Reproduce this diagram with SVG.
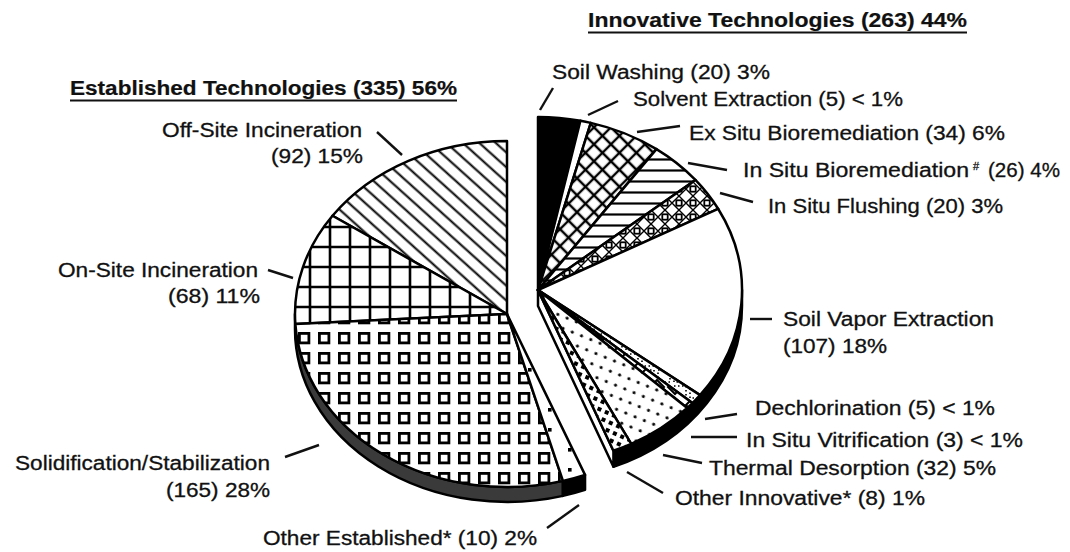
<svg xmlns="http://www.w3.org/2000/svg" width="1070" height="552" viewBox="0 0 1070 552">
<style>
  text { font-family: "Liberation Sans", Arial, Helvetica, sans-serif; font-size: 20px; fill: #111; stroke: #111; stroke-width: 0.3; }
  .title { font-weight: bold; stroke-width: 0.2; }
  .edge { stroke: #000; stroke-width: 2.5; stroke-linejoin: round; }
  .lead { stroke: #111; stroke-width: 2.4; stroke-linecap: butt; fill: none; }
  .uline { stroke: #111; stroke-width: 2.2; }
</style>
<defs>
  <pattern id="pOff" width="11" height="11" patternUnits="userSpaceOnUse" patternTransform="rotate(42)">
    <rect width="11" height="11" fill="#fff"/>
    <line x1="0" y1="5.5" x2="11" y2="5.5" stroke="#000" stroke-width="2"/>
  </pattern>
  <pattern id="pOn" x="0" y="-3" width="20" height="20" patternUnits="userSpaceOnUse">
    <rect width="20" height="20" fill="#fff"/>
    <path d="M10,0V20M0,10H20" stroke="#000" stroke-width="2.6" fill="none"/>
  </pattern>
  <pattern id="pSq" x="-2" y="12" width="20" height="20" patternUnits="userSpaceOnUse">
    <rect width="20" height="20" fill="#fff"/>
    <rect x="1.4" y="1.4" width="9.5" height="9.5" fill="none" stroke="#000" stroke-width="2.8"/>
  </pattern>
  <pattern id="pDotL" x="0" y="0" width="20" height="20" patternUnits="userSpaceOnUse">
    <rect width="20" height="20" fill="#fff"/>
    <rect x="8" y="8" width="3.6" height="3.6" fill="#000"/>
  </pattern>
  <pattern id="pX" width="12" height="12" patternUnits="userSpaceOnUse" patternTransform="rotate(45)">
    <rect width="12" height="12" fill="#fff"/>
    <path d="M6,0V12M0,6H12" stroke="#000" stroke-width="2.4" fill="none"/>
  </pattern>
  <pattern id="pH" width="11" height="11" patternUnits="userSpaceOnUse">
    <rect width="11" height="11" fill="#fff"/>
    <line x1="0" y1="5.5" x2="11" y2="5.5" stroke="#000" stroke-width="2.2"/>
  </pattern>
  <pattern id="pFl" width="14" height="14" patternUnits="userSpaceOnUse">
    <rect width="14" height="14" fill="#fff"/>
    <path d="M7,0L14,7L7,14L0,7Z" fill="none" stroke="#000" stroke-width="1.4"/>
    <rect x="4.3" y="4.3" width="5.4" height="5.4" fill="#fff" stroke="#000" stroke-width="1.8"/>
  </pattern>
  <pattern id="pDs" width="16" height="16" patternUnits="userSpaceOnUse">
    <rect width="16" height="16" fill="#fff"/>
    <rect x="2" y="2" width="12" height="12" fill="none" stroke="#000" stroke-width="1.6" stroke-dasharray="1.5 2.5"/>
  </pattern>
  <pattern id="pDm" width="18" height="18" patternUnits="userSpaceOnUse">
    <rect width="18" height="18" fill="#fff"/>
    <path d="M9,2L16,9L9,16L2,9Z" fill="#fff" stroke="#000" stroke-width="2"/>
  </pattern>
  <pattern id="pDg" width="10" height="11" patternUnits="userSpaceOnUse" patternTransform="rotate(22)">
    <rect width="10" height="11" fill="#fff"/>
    <circle cx="5" cy="5.5" r="1.6" fill="#000"/>
  </pattern>
  <pattern id="pCk" width="8" height="8" patternUnits="userSpaceOnUse" patternTransform="rotate(24)">
    <rect width="8" height="8" fill="#fff"/>
    <rect x="0" y="0" width="4" height="4" fill="#000"/>
  </pattern>
</defs>

<rect width="1070" height="552" fill="#fff"/>

<!-- Established (left) group -->
<g id="established">
  <g id="band-established">
    <path class="edge" fill="#3a3a3a" d="M295,314 A212,173 0 0 0 562.94,480.87 L562.94,495.87 A212,173 0 0 1 295,329 Z"/>
    <path class="edge" fill="#000" d="M562.94,480.87 A212,173 0 0 0 585.04,474.85 L585.04,489.85 A212,173 0 0 1 562.94,495.87 Z"/>
  </g>
  <g id="off-site-incineration">
    <path class="edge" fill="url(#pOff)" d="M507,314 L507,141 A212,173 0 0 0 332.49,215.76 Z"/>
  </g>
  <g id="on-site-incineration">
    <path class="edge" fill="url(#pOn)" d="M507,314 L332.49,215.76 A212,173 0 0 0 295.35,323.96 Z"/>
  </g>
  <g id="solidification-stabilization">
    <path class="edge" fill="url(#pSq)" d="M507,314 L295.35,323.96 A212,173 0 0 0 562.94,480.87 Z"/>
  </g>
  <g id="other-established">
    <path class="edge" fill="url(#pDotL)" d="M507,314 L562.94,480.87 A212,173 0 0 0 585.04,474.85 Z"/>
  </g>
</g>

<!-- Innovative (right) group -->
<g id="innovative">
  <g id="band-innovative">
    <path class="edge" fill="#000" d="M742,290 A204,173 0 0 1 613.43,450.74 L613.43,466.74 A204,173 0 0 0 742,306 Z"/>
    <path class="edge" fill="#fff" d="M538,290 L613.43,450.74 L613.43,466.74 L538,306 Z"/>
  </g>
  <g id="soil-washing">
    <path class="edge" fill="#000" d="M538,290 L538,117 A204,173 0 0 1 580.41,120.78 Z"/>
  </g>
  <g id="solvent-extraction">
    <path class="edge" fill="#fff" d="M538,290 L580.41,120.78 A204,173 0 0 1 590.80,122.89 Z"/>
  </g>
  <g id="ex-situ-bioremediation">
    <path class="edge" fill="url(#pX)" d="M538,290 L590.80,122.89 A204,173 0 0 1 656.46,149.16 Z"/>
  </g>
  <g id="in-situ-bioremediation">
    <path class="edge" fill="url(#pH)" d="M538,290 L656.46,149.16 A204,173 0 0 1 695.41,179.96 Z"/>
  </g>
  <g id="in-situ-flushing">
    <path class="edge" fill="url(#pFl)" d="M538,290 L695.41,179.96 A204,173 0 0 1 718.12,208.78 Z"/>
  </g>
  <g id="soil-vapor-extraction">
    <path class="edge" fill="#fff" d="M538,290 L718.12,208.78 A204,173 0 0 1 700.06,395.08 Z"/>
  </g>
  <g id="dechlorination">
    <path class="edge" fill="url(#pDs)" d="M538,290 L700.06,395.08 A204,173 0 0 1 692.43,403.04 Z"/>
  </g>
  <g id="in-situ-vitrification">
    <path class="edge" fill="url(#pDm)" d="M538,290 L692.43,403.04 A204,173 0 0 1 687.20,407.99 Z"/>
  </g>
  <g id="thermal-desorption">
    <path class="edge" fill="url(#pDg)" d="M538,290 L687.20,407.99 A204,173 0 0 1 631.24,443.87 Z"/>
  </g>
  <g id="other-innovative">
    <path class="edge" fill="url(#pCk)" d="M538,290 L631.24,443.87 A204,173 0 0 1 613.43,450.74 Z"/>
  </g>
</g>

<!-- Leader lines -->
<g id="connectors">
  <line class="lead" x1="377" y1="132" x2="402" y2="155"/>
  <line class="lead" x1="268" y1="270" x2="293" y2="278"/>
  <line class="lead" x1="285" y1="457" x2="319" y2="445"/>
  <line class="lead" x1="547" y1="528" x2="579" y2="505"/>
  <line class="lead" x1="540" y1="110" x2="553" y2="88"/>
  <line class="lead" x1="588" y1="115" x2="618" y2="101"/>
  <line class="lead" x1="637" y1="132" x2="680" y2="126"/>
  <line class="lead" x1="688" y1="163" x2="727" y2="170"/>
  <line class="lead" x1="720" y1="193" x2="753" y2="202"/>
  <line class="lead" x1="750" y1="319" x2="772" y2="319"/>
  <line class="lead" x1="705" y1="419" x2="737" y2="414"/>
  <line class="lead" x1="691" y1="437" x2="737" y2="437"/>
  <line class="lead" x1="663" y1="455" x2="702" y2="463"/>
  <line class="lead" x1="627" y1="472" x2="663" y2="493"/>
</g>

<!-- Titles -->
<g id="title-established">
  <text class="title" x="70" y="95" textLength="387" lengthAdjust="spacingAndGlyphs">Established Technologies (335) 56%</text>
  <line class="uline" x1="70" y1="100.5" x2="457" y2="100.5"/>
</g>
<g id="title-innovative">
  <text class="title" x="588" y="27" textLength="379" lengthAdjust="spacingAndGlyphs">Innovative Technologies (263) 44%</text>
  <line class="uline" x1="588" y1="32.5" x2="967" y2="32.5"/>
</g>

<!-- Labels -->
<g id="label-off-site">
  <text x="162" y="137" textLength="200" lengthAdjust="spacingAndGlyphs">Off-Site Incineration</text>
  <text x="271" y="163" textLength="92" lengthAdjust="spacingAndGlyphs">(92) 15%</text>
</g>
<g id="label-on-site">
  <text x="58" y="277" textLength="200" lengthAdjust="spacingAndGlyphs">On-Site Incineration</text>
  <text x="168" y="303" textLength="92" lengthAdjust="spacingAndGlyphs">(68) 11%</text>
</g>
<g id="label-solidification">
  <text x="15" y="470" textLength="255" lengthAdjust="spacingAndGlyphs">Solidification/Stabilization</text>
  <text x="166" y="497" textLength="104" lengthAdjust="spacingAndGlyphs">(165) 28%</text>
</g>
<g id="label-other-established">
  <text x="263" y="545" textLength="274" lengthAdjust="spacingAndGlyphs">Other Established* (10) 2%</text>
</g>
<g id="label-soil-washing">
  <text x="552" y="79" textLength="218" lengthAdjust="spacingAndGlyphs">Soil Washing (20) 3%</text>
</g>
<g id="label-solvent">
  <text x="633" y="106" textLength="270" lengthAdjust="spacingAndGlyphs">Solvent Extraction (5) &lt; 1%</text>
</g>
<g id="label-ex-situ">
  <text x="689" y="140" textLength="316" lengthAdjust="spacingAndGlyphs">Ex Situ Bioremediation (34) 6%</text>
</g>
<g id="label-in-situ-bio">
  <text x="743" y="177" textLength="226" lengthAdjust="spacingAndGlyphs">In Situ Bioremediation</text>
  <text x="973" y="170" style="font-size:11px">#</text>
  <text x="988" y="177" textLength="72" lengthAdjust="spacingAndGlyphs">(26) 4%</text>
</g>
<g id="label-flushing">
  <text x="768" y="213" textLength="235" lengthAdjust="spacingAndGlyphs">In Situ Flushing (20) 3%</text>
</g>
<g id="label-sve">
  <text x="783" y="326" textLength="211" lengthAdjust="spacingAndGlyphs">Soil Vapor Extraction</text>
  <text x="783" y="353" textLength="104" lengthAdjust="spacingAndGlyphs">(107) 18%</text>
</g>
<g id="label-dechlorination">
  <text x="755" y="415" textLength="240" lengthAdjust="spacingAndGlyphs">Dechlorination (5) &lt; 1%</text>
</g>
<g id="label-vitrification">
  <text x="746" y="447" textLength="277" lengthAdjust="spacingAndGlyphs">In Situ Vitrification (3) &lt; 1%</text>
</g>
<g id="label-thermal">
  <text x="709" y="475" textLength="287" lengthAdjust="spacingAndGlyphs">Thermal Desorption (32) 5%</text>
</g>
<g id="label-other-innovative">
  <text x="675" y="505" textLength="250" lengthAdjust="spacingAndGlyphs">Other Innovative* (8) 1%</text>
</g>
</svg>
